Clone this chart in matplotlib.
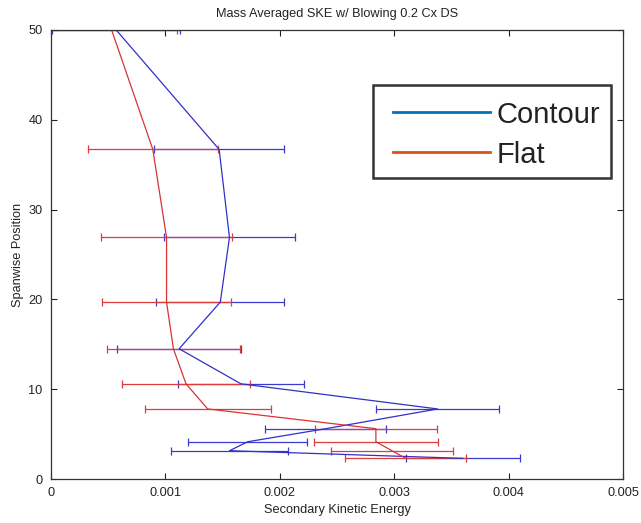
import matplotlib
matplotlib.use("Agg")
import matplotlib.pyplot as plt
from matplotlib.lines import Line2D
from matplotlib.patches import Rectangle

plt.rcParams['font.family'] = ['Liberation Sans', 'DejaVu Sans']

# Spanwise stations (shared by both cases)
span = [50, 36.7, 26.9, 19.7, 14.5, 10.6, 7.8, 5.6, 4.15, 3.15, 2.3]

# Contour endwall: mean SKE and its spread
contour_ske = [0.00057, 0.00147, 0.00156, 0.00148, 0.00112, 0.00166,
               0.00338, 0.00240, 0.00172, 0.00156, 0.00360]
contour_err = [0.00056, 0.00057, 0.00057, 0.00056, 0.00054, 0.00055,
               0.00054, 0.00053, 0.00052, 0.00051, 0.00050]

# Flat endwall: mean SKE and its spread
flat_ske = [0.00053, 0.00089, 0.00101, 0.00101, 0.00107, 0.00118,
            0.00137, 0.00284, 0.00284, 0.00298, 0.00310]
flat_err = [0.00057, 0.00057, 0.00057, 0.00056, 0.00058, 0.00056,
            0.00055, 0.00053, 0.00054, 0.00053, 0.00053]

x_ticks = [0, 0.001, 0.002, 0.003, 0.004, 0.005]
x_tick_labels = ['0', '0.001', '0.002', '0.003', '0.004', '0.005']
y_ticks = [0, 10, 20, 30, 40, 50]

legend_labels = ['Contour', 'Flat']
legend_colors = ['#0072BD', '#D95319']

fs = 9.2
W, H = 641, 523

fig = plt.figure(figsize=(W / 100, H / 100), dpi=100)
ax = fig.add_axes([51 / W, 44 / H, 572 / W, 449 / H])

ax.errorbar(contour_ske, span, xerr=contour_err, color='#3030c8',
            ecolor='#3a3ad0', lw=0.9, elinewidth=0.9, capsize=3, capthick=0.9)
ax.errorbar(flat_ske, span, xerr=flat_err, color='#d83434',
            ecolor='#dc3c3c', lw=0.9, elinewidth=0.9, capsize=3, capthick=0.9)

ax.set_xlim(0, 0.005)
ax.set_ylim(0, 50)
ax.set_xticks(x_ticks)
ax.set_xticklabels(x_tick_labels)
ax.set_yticks(y_ticks)
ax.tick_params(direction='in', length=4, width=0.8, top=True, right=True,
               labelsize=fs, colors='#222222', pad=6)
for s in ax.spines.values():
    s.set_linewidth(0.9)
    s.set_color('#333333')

ax.set_title('Mass Averaged SKE w/ Blowing 0.2 Cx DS', fontsize=fs,
             color='#222222', pad=9)
ax.set_xlabel('Secondary Kinetic Energy', fontsize=fs, color='#222222',
              labelpad=3)
ax.set_ylabel('Spanwise Position', fontsize=fs, color='#222222',
              labelpad=3)


# Legend box drawn in figure pixel space (origin top-left)
def fx(px):
    return px / W


def fy(py):
    return 1 - py / H


box_l, box_t, box_r, box_b = 373, 85, 611, 178
fig.add_artist(Rectangle((fx(box_l), fy(box_b)), fx(box_r) - fx(box_l),
                         fy(box_t) - fy(box_b), transform=fig.transFigure,
                         facecolor='white', edgecolor='#333333', lw=1.8,
                         zorder=5))
row_y = [111.7, 151.7]
for lab, col, ry in zip(legend_labels, legend_colors, row_y):
    fig.add_artist(Line2D([fx(393), fx(490)], [fy(ry), fy(ry)],
                          transform=fig.transFigure, color=col, lw=2,
                          zorder=6))
    fig.text(fx(497), fy(ry), lab, fontsize=21, color='#222222',
             ha='left', va='center_baseline', zorder=6)

fig.savefig('out.png', dpi=100)
